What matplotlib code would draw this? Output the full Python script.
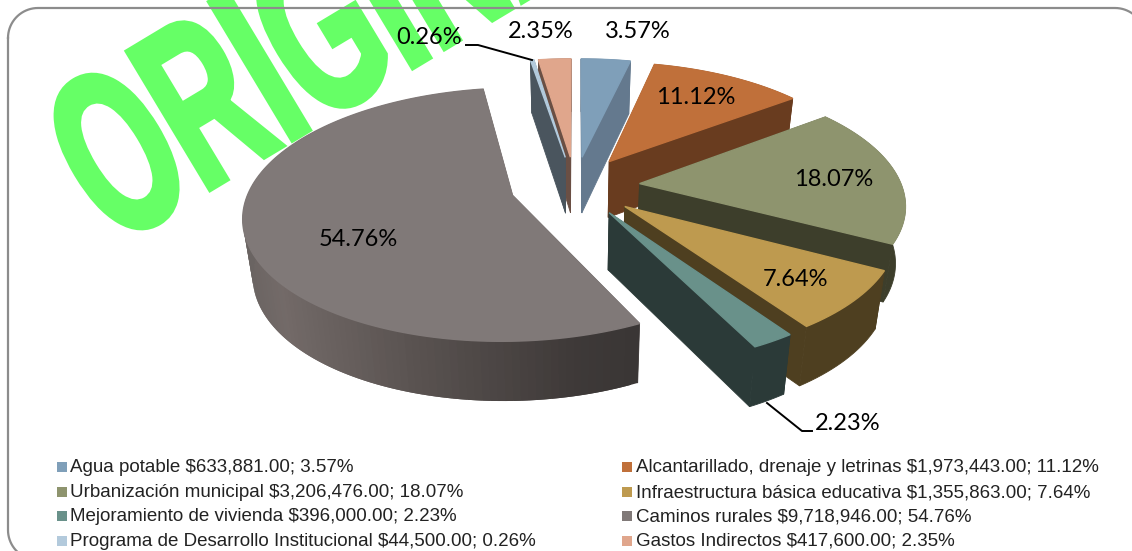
#!/usr/bin/env python3
import matplotlib
matplotlib.use("Agg")
import matplotlib.pyplot as plt
import matplotlib.patheffects as pe
from matplotlib.patches import Polygon, Rectangle
from matplotlib.transforms import Affine2D
import numpy as np

names = ["Agua potable", "Alcantarillado, drenaje y letrinas", "Urbanización municipal",
         "Infraestructura básica educativa", "Mejoramiento de vivienda", "Caminos rurales",
         "Programa de Desarrollo Institucional", "Gastos Indirectos"]
amounts = [633881, 1973443, 3206476, 1355863, 396000, 9718946, 44500, 417600]
percents = ["3.57%", "11.12%", "18.07%", "7.64%", "2.23%", "54.76%", "0.26%", "2.35%"]

top_colors = ["#7F9FB9", "#C0703A", "#8E946E", "#BE9A4F", "#69918A", "#807978", "#B3CADC", "#E0A68C"]
side_colors = ["#64798E", "#693C1F", "#3D3E2B", "#4E3F20", "#2B3A38", "#4A4443", "#4A555E", "#6A4F44"]

# fake 3d camera, fitted by eye to the picture
CX, CY = 575, 186
RX, RY = 262, 121
PX, PY = 0.15, 0.15
EXPLODE = 0.248


def project(wx, wy):
    x = CX + RX * wx / (1 + PX * wy)
    y = CY - RY * wy / (1 + PY * wy)
    return x, y


def drop(x, y, wy):
    """same point on the bottom of the pie"""
    return CX + (x - CX) * 0.97, y + 56.5 - 3 * wy


def face(ax, pts, color, lw=0.6):
    ax.add_patch(Polygon(pts, closed=True, facecolor=color, edgecolor=color if lw else "none", lw=lw, zorder=3))


def caminos_shade(t):
    # band is lightest just right of the left end, almost black on the right
    pos = [0, 0.1, 0.4, 0.85, 1]
    stops = np.array([[0x6A, 0x64, 0x62], [0x73, 0x6A, 0x68], [0x5C, 0x55, 0x53],
                      [0x3E, 0x39, 0x38], [0x3A, 0x36, 0x35]], dtype=float)
    return tuple(np.interp(t, pos, stops[:, i]) / 255 for i in range(3))


def draw_slice(ax, a0, a1, top, side, shaded=False):
    mid = (a0 + a1) / 2
    ox, oy = EXPLODE * np.sin(mid), EXPLODE * np.cos(mid)
    th = np.linspace(a0, a1, max(int((a1 - a0) * 40), 8))
    wx, wy = ox + np.sin(th), oy + np.cos(th)
    x, y = project(wx, wy)
    ax0, ay0 = project(ox, oy)
    bx, by = drop(x, y, wy)
    abx, aby = drop(ax0, ay0, oy)

    faces = []
    faces.append(([(ax0, ay0), (x[0], y[0]), (bx[0], by[0]), (abx, aby)], side))
    faces.append(([(ax0, ay0), (x[-1], y[-1]), (bx[-1], by[-1]), (abx, aby)], side))
    if not shaded:
        faces.append((list(zip(x, y)) + list(zip(bx, by))[::-1], side))
    faces.sort(key=lambda f: np.mean([p[1] for p in f[0]]))
    for pts, c in faces:
        face(ax, pts, c)
    if shaded:
        # overlapping strips, painted one over the other so no seams show
        for i in range(len(th) - 1):
            j = min(i + 2, len(th) - 1)
            t = (x[i] - x.min()) / (x.max() - x.min())
            face(ax, [(x[i], y[i]), (x[j], y[j]), (bx[j], by[j]), (bx[i], by[i])], caminos_shade(t), lw=0)
    face(ax, [(ax0, ay0)] + list(zip(x, y)), top, lw=1.0)


class Squeeze(pe.AbstractPathEffect):
    """WordArt look: narrow and fatten the glyphs along the baseline"""
    def __init__(s, sx, stroke):
        super().__init__()
        s.sx = sx
        s.stroke = stroke

    def draw_path(s, renderer, gc, tpath, affine, rgbFace=None):
        gc0 = renderer.new_gc()
        gc0.copy_properties(gc)
        gc0.set_foreground(rgbFace)
        gc0.set_linewidth(s.stroke)
        gc0.set_joinstyle("miter")
        renderer.draw_path(gc0, tpath, Affine2D().scale(s.sx, 1) + affine, rgbFace)
        gc0.restore()


def rounded_border(ax, x0, y0, x1, y1, r):
    a = np.linspace(0, np.pi / 2, 20)
    xs = np.r_[x0 + r - r * np.cos(a), x1 - r + r * np.sin(a), x1 - r + r * np.cos(a), x0 + r - r * np.sin(a), x0]
    ys = np.r_[y0 + r - r * np.sin(a), y0 + r - r * np.cos(a), y1 - r + r * np.sin(a), y1 - r + r * np.cos(a), y0 + r]
    ax.plot(xs, ys, color="#8C8C8C", lw=1.6, zorder=2)


fig = plt.figure(figsize=(11.32, 5.51), dpi=100)
ax = fig.add_axes([0, 0, 1, 1])
ax.set_xlim(0, 1132)
ax.set_ylim(551, 0)
ax.axis("off")

t = ax.text(114, 247, "ORIGINAL", rotation=31, rotation_mode="anchor", ha="left", va="baseline",
            fontsize=168, color="#66FF66", family="Liberation Sans", weight="bold", zorder=1)
t.set_path_effects([Squeeze(0.57, 4)])

rounded_border(ax, 8, 8, 1145, 560, 30)

# slices go clockwise from 12 o'clock, far ones first
angles = np.cumsum([0] + amounts) / sum(amounts) * 2 * np.pi
order = [7, 6, 0, 1, 2, 3, 4, 5]
for i in order:
    draw_slice(ax, angles[i], angles[i + 1], top_colors[i], side_colors[i], shaded=(i == 5))

label_font = dict(family="Lato", fontsize=17, color="black", ha="center", va="center", zorder=5)
label_x = [638, 696, 834, 795, 848, 358, 429, 541]
label_y = [32, 97, 179, 280, 424, 239, 38, 32]
for lx, ly, p in zip(label_x, label_y, percents):
    ax.text(lx, ly, p, **label_font)

ax.plot([466, 478, 532], [45, 45, 60], color="black", lw=1.4, zorder=5)
ax.plot([767, 802, 812], [403, 431, 431], color="black", lw=1.4, zorder=5)

legend_x = [57, 622]
legend_y = [467, 492, 516, 541]
for i, (n, a, p) in enumerate(zip(names, amounts, percents)):
    lx = legend_x[i % 2]
    ly = legend_y[i // 2]
    ax.add_patch(Rectangle((lx, ly - 5), 10, 10, facecolor=top_colors[i], edgecolor="none", zorder=5))
    ax.text(lx + 13.5, ly + 0.5, f"{n} ${a:,.2f}; {p}", family="Liberation Sans", fontsize=13.5,
            color="#222222", ha="left", va="center", zorder=5)

fig.savefig("out.png", dpi=100)
